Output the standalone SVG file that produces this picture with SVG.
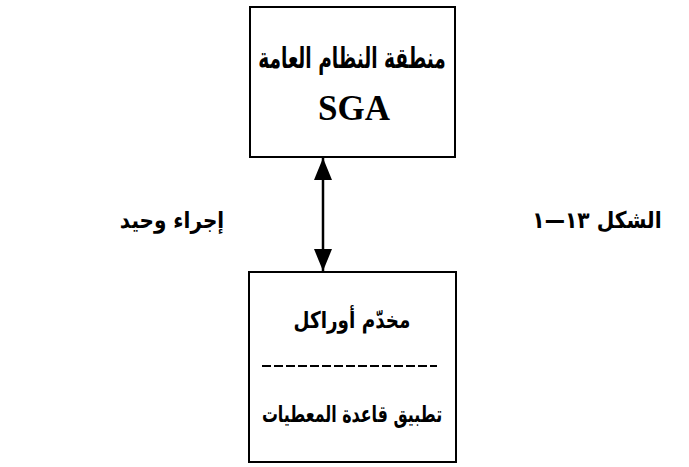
<svg xmlns="http://www.w3.org/2000/svg" width="689" height="467" viewBox="0 0 689 467">
<style>
.box{fill:#fff;stroke:#000;stroke-width:2}
.ar{font-family:"DejaVu Sans",sans-serif;font-weight:bold;fill:#000}
.lat{font-family:"Liberation Serif",serif;font-weight:bold;fill:#000}
.conn{stroke:#000;stroke-width:2.5;fill:none}
</style>
<defs>
<marker id="ah" viewBox="0 0 22 18" refX="22" refY="9" markerWidth="22" markerHeight="18" markerUnits="userSpaceOnUse" orient="auto-start-reverse">
<path d="M0,0 L22,9 L0,18 Z" fill="#000"/>
</marker>
</defs>
<rect width="689" height="467" fill="#fff"/>
<g id="sga">
<rect class="box" x="250" y="7" width="205" height="150"/>
<text class="ar" transform="translate(352,68) scale(0.64,1)" font-size="29" text-anchor="middle" direction="rtl">منطقة النظام العامة</text>
<text class="lat" x="354" y="120" font-size="35" text-anchor="middle">SGA</text>
</g>
<g id="oracle">
<rect class="box" x="249" y="272" width="207" height="190"/>
<text class="ar" transform="translate(352,328) scale(0.8,1)" font-size="23" text-anchor="middle" direction="rtl">مخدّم أوراكل</text>
<line x1="262" y1="366" x2="437" y2="366" stroke="#000" stroke-width="1.8" stroke-dasharray="9,3"/>
<text class="ar" transform="translate(352,422) scale(0.69,1)" font-size="23" text-anchor="middle" direction="rtl">تطبيق قاعدة المعطيات</text>
</g>
<g id="label-left">
<text class="ar" transform="translate(172,228) scale(0.87,1)" font-size="23" text-anchor="middle" direction="rtl">إجراء وحيد</text>
</g>
<g id="label-right">
<text class="ar" transform="translate(597,228) scale(0.88,1)" font-size="23" text-anchor="middle" direction="rtl">الشكل ١٣—١</text>
</g>
<g id="connectors">
<line class="conn" x1="323" y1="158" x2="323" y2="271" marker-start="url(#ah)" marker-end="url(#ah)"/>
</g>
</svg>
